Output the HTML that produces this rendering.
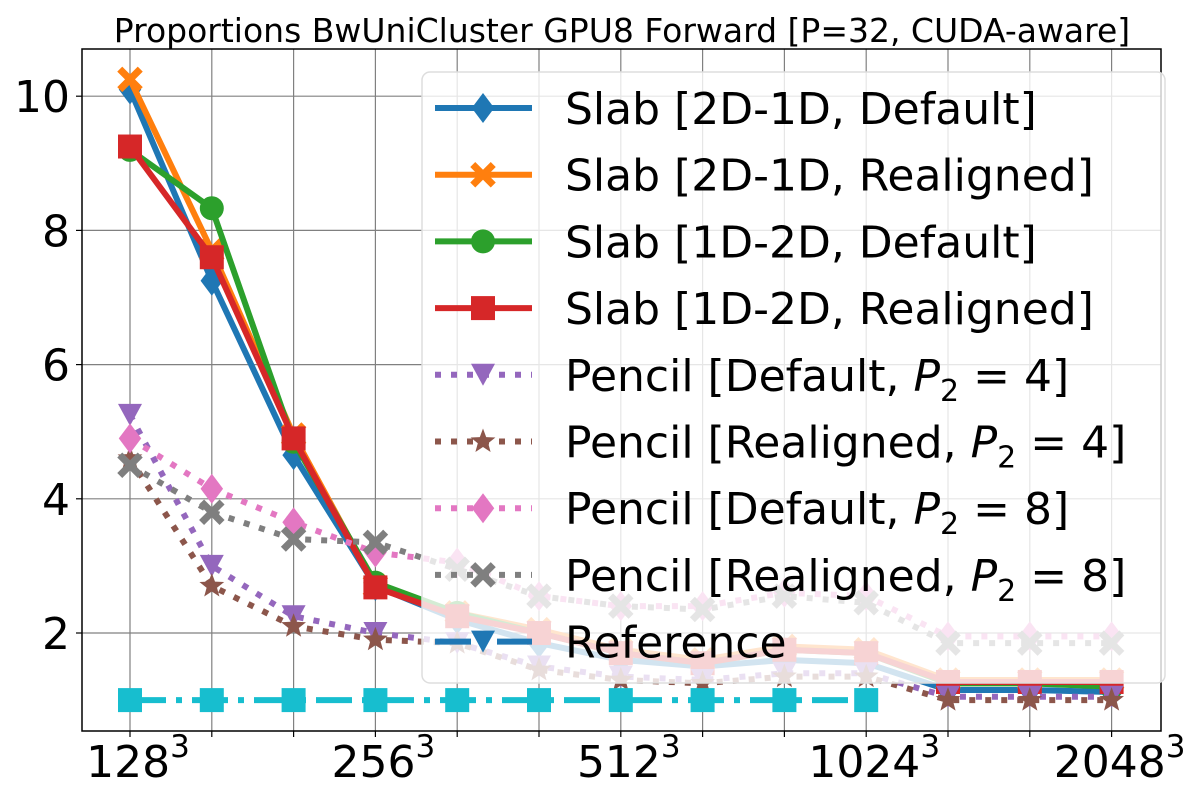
<!DOCTYPE html>
<html><head><meta charset="utf-8">
<style>
html,body{margin:0;padding:0;background:#fff;}
svg{display:block;font-family:"DejaVu Sans","Liberation Sans",sans-serif;}
</style></head>
<body>
<svg id="chart" width="1200" height="800" viewBox="0 0 1200 800"></svg>
<script>
const categories=["128","161","203","256","322","406","512","645","812","1024","1290","1625","2048"];
const tickLabelCats=[0,3,6,9,12];
const yTicks=[2,4,6,8,10];
const slab2d1dDefault=[10.1,7.25,4.65,2.7,2.2,1.85,1.6,1.5,1.6,1.55,1.15,1.15,1.12];
const slab2d1dRealigned=[10.25,7.7,4.95,2.7,2.3,2.05,1.75,1.6,1.8,1.75,1.3,1.3,1.3];
const slab1d2dDefault=[9.2,8.33,4.85,2.75,2.3,2.0,1.7,1.55,1.75,1.7,1.25,1.25,1.2];
const slab1d2dRealigned=[9.25,7.6,4.9,2.68,2.25,2.0,1.7,1.55,1.75,1.7,1.27,1.27,1.27];
const pencilDefault4=[5.25,3.0,2.25,2.0,1.85,1.5,1.35,1.3,1.4,1.4,1.05,1.05,1.05];
const pencilRealigned4=[4.6,2.7,2.1,1.9,1.85,1.45,1.3,1.25,1.35,1.35,1.0,1.0,1.0];
const pencilDefault8=[4.9,4.15,3.65,3.2,3.05,2.55,2.4,2.4,2.6,2.55,1.95,1.95,1.95];
const pencilRealigned8=[4.5,3.8,3.4,3.35,2.95,2.55,2.4,2.35,2.55,2.45,1.85,1.85,1.85];
const reference=[1,1,1,1,1,1,1,1,1,1,null,null,null];

const NS="http://www.w3.org/2000/svg";
const svg=document.getElementById('chart');
const L=82,R=1161,T=49,B=731;
const x0=130,dx=81.8;
function xs(i){return x0+i*dx;}
function ys(v){return 633-(v-2)*67.1;}
function el(tag,attrs,parent){const e=document.createElementNS(NS,tag);for(const k in attrs)e.setAttribute(k,attrs[k]);(parent||svg).appendChild(e);return e;}

const title=el('text',{x:622,y:42,'text-anchor':'middle','font-size':33,fill:'#000'});
title.textContent='Proportions BwUniCluster GPU8 Forward [P=32, CUDA-aware]';



const grid=el('g',{});


categories.forEach((c,i)=>{el('line',{x1:xs(i),x2:xs(i),y1:T,y2:B,stroke:'#808080','stroke-width':1.2},grid);
 el('line',{x1:xs(i),x2:xs(i),y1:B,y2:B+6,stroke:'#000','stroke-width':1.2},grid);});
yTicks.forEach(v=>{el('line',{x1:L,x2:R,y1:ys(v),y2:ys(v),stroke:'#808080','stroke-width':1.2},grid);
 el('line',{x1:L-6,x2:L,y1:ys(v),y2:ys(v),stroke:'#000','stroke-width':1.2},grid);});

const yax=el('g',{});


yTicks.forEach(v=>{const t=el('text',{x:L-12,y:ys(v)+16,'text-anchor':'end','font-size':44},yax);t.textContent=String(v);
 
 });
const xax=el('g',{});


tickLabelCats.forEach(i=>{const t=el('text',{x:xs(i)+8,y:777,'text-anchor':'middle','font-size':44},xax);
 
 
 const a=el('tspan',{},t);a.textContent=categories[i];
 const b=el('tspan',{dy:-20,'font-size':31},t);b.textContent='3';});

function marker(type,cx,cy,color,parent){
 const s=15;
 if(type==='D')return el('path',{d:`M${cx},${cy-s} L${cx+s*0.75},${cy} L${cx},${cy+s} L${cx-s*0.75},${cy} Z`,fill:color},parent);
 if(type==='X'){const a=s*0.85,w=5;return el('path',{d:`M${cx-a},${cy-a+w} L${cx-a+w},${cy-a} L${cx},${cy-w} L${cx+a-w},${cy-a} L${cx+a},${cy-a+w} L${cx+w},${cy} L${cx+a},${cy+a-w} L${cx+a-w},${cy+a} L${cx},${cy+w} L${cx-a+w},${cy+a} L${cx-a},${cy+a-w} L${cx-w},${cy} Z`,fill:color},parent);}
 if(type==='o')return el('circle',{cx:cx,cy:cy,r:12,fill:color},parent);
 if(type==='s')return el('rect',{x:cx-12,y:cy-12,width:24,height:24,fill:color},parent);
 if(type==='v')return el('path',{d:`M${cx-12},${cy-11} L${cx+12},${cy-11} L${cx},${cy+11} Z`,fill:color},parent);
 if(type==='*'){let d='';for(let k=0;k<10;k++){const r=k%2?5.5:13;const a=-Math.PI/2+k*Math.PI/5;d+=(k?'L':'M')+(cx+r*Math.cos(a)).toFixed(1)+','+(cy+r*Math.sin(a)).toFixed(1);}return el('path',{d:d+'Z',fill:color},parent);}
}

const series=[
 {name:'slab-2d1d-default',data:slab2d1dDefault,color:'#1f77b4',m:'D',dash:null},
 {name:'slab-2d1d-realigned',data:slab2d1dRealigned,color:'#ff7f0e',m:'X',dash:null},
 {name:'slab-1d2d-default',data:slab1d2dDefault,color:'#2ca02c',m:'o',dash:null},
 {name:'slab-1d2d-realigned',data:slab1d2dRealigned,color:'#d62728',m:'s',dash:null},
 {name:'pencil-default-p4',data:pencilDefault4,color:'#9467bd',m:'v',dash:'6,10'},
 {name:'pencil-realigned-p4',data:pencilRealigned4,color:'#8c564b',m:'*',dash:'6,10'},
 {name:'pencil-default-p8',data:pencilDefault8,color:'#e377c2',m:'D',dash:'6,10'},
 {name:'pencil-realigned-p8',data:pencilRealigned8,color:'#7f7f7f',m:'X',dash:'6,10'},
 {name:'reference',data:reference,color:'#17becf',m:'s',dash:'36,10,6,10'}
];
const plot=el('g',{});


series.forEach(s=>{
 const g=el('g',{},plot);
 
 
 let d='';s.data.forEach((v,i)=>{if(v!==null)d+=(d?'L':'M')+xs(i)+','+ys(v);});
 const a={d:d,fill:'none',stroke:s.color,'stroke-width':6,'stroke-linejoin':'round'};
 if(s.dash)a['stroke-dasharray']=s.dash;
 el('path',a,g);
 s.data.forEach((v,i)=>{if(v!==null){const m=marker(s.m,xs(i),ys(v),s.color,g);
  
  }});
});

el('rect',{x:L,y:T,width:R-L,height:B-T,fill:'none',stroke:'#000','stroke-width':1.5});

const lg=el('g',{});


el('rect',{x:422,y:72,width:743,height:611,rx:8,fill:'#fff','fill-opacity':0.8,stroke:'#ddd','stroke-width':1.5},lg);
const labels=[['Slab [2D-1D, Default]'],['Slab [2D-1D, Realigned]'],['Slab [1D-2D, Default]'],['Slab [1D-2D, Realigned]'],
 ['Pencil [Default, ','4]'],['Pencil [Realigned, ','4]'],['Pencil [Default, ','8]'],['Pencil [Realigned, ','8]'],['Reference']];
const legendColors=['#1f77b4','#ff7f0e','#2ca02c','#d62728','#9467bd','#8c564b','#e377c2','#7f7f7f','#1f77b4'];
const legendMarkers=['D','X','o','s','v','*','D','X','v'];
labels.forEach((lab,k)=>{
 const y=108+k*66.7;
 const e=el('g',{},lg);
 
 
 const a={x1:435,x2:532,y1:y,y2:y,stroke:legendColors[k],'stroke-width':6};
 if(k>=4&&k<8)a['stroke-dasharray']='6,10';
 if(k===8)a['stroke-dasharray']='36,10,6,10';
 el('line',a,e);
 marker(legendMarkers[k],483,y,legendColors[k],e);
 const t=el('text',{x:565,y:y+16,'font-size':44},e);
 if(lab.length===1){t.textContent=lab[0];}
 else{const p1=el('tspan',{},t);p1.textContent=lab[0];
  const p2=el('tspan',{'font-style':'italic'},t);p2.textContent='P';
  const p3=el('tspan',{dy:10,'font-size':30},t);p3.textContent='2';
  const p4=el('tspan',{dy:-10},t);p4.textContent=' = '+lab[1];}
});
</script>
</body></html>
